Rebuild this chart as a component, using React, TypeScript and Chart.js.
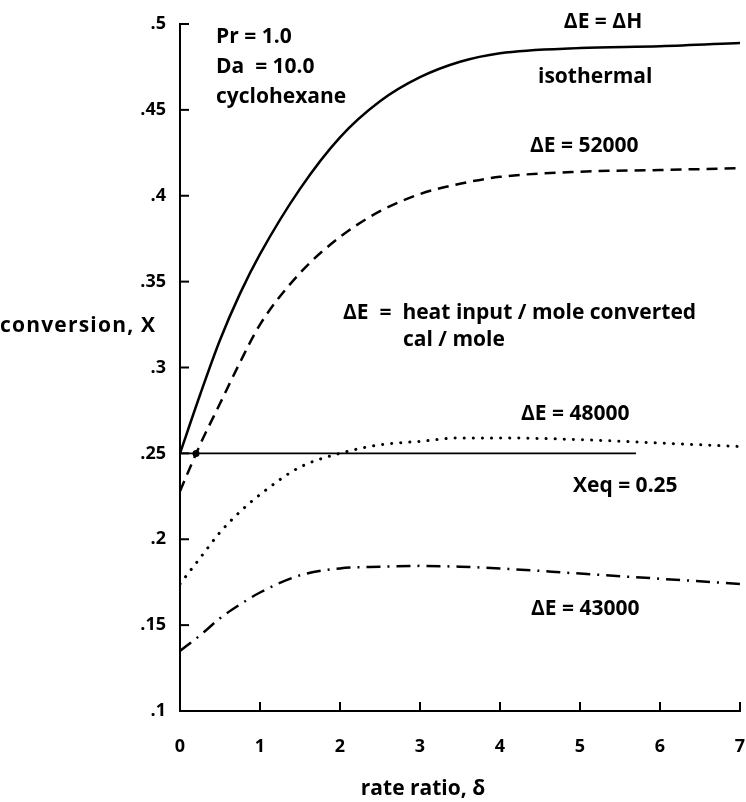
import React, { useEffect, useRef } from "react";
import { Chart, registerables } from "chart.js";
Chart.register(...registerables);

const xValues = [0, 0.25, 0.5, 0.75, 1, 1.5, 2, 2.5, 3, 3.5, 4, 5, 6, 7];
const isothermal = [0.25, 0.284, 0.316, 0.343, 0.366, 0.404, 0.434, 0.455, 0.469, 0.478, 0.483, 0.486, 0.487, 0.489];
const dE52000 = [0.228, 0.255, 0.279, 0.303, 0.325, 0.355, 0.376, 0.391, 0.401, 0.407, 0.411, 0.414, 0.415, 0.416];
const dE48000 = [0.174, 0.189, 0.204, 0.216, 0.226, 0.242, 0.250, 0.255, 0.257, 0.259, 0.259, 0.258, 0.256, 0.254];
const dE43000 = [0.135, 0.144, 0.154, 0.162, 0.169, 0.179, 0.183, 0.184, 0.1845, 0.184, 0.183, 0.180, 0.177, 0.174];
const xeqX = [0, 0.2, 5.7];
const xeqY = [0.25, 0.25, 0.25];
const xTicks = [0, 1, 2, 3, 4, 5, 6, 7];
const yTicks = [0.1, 0.15, 0.2, 0.25, 0.3, 0.35, 0.4, 0.45, 0.5];

const FONT = '"Open Sans", "DejaVu Sans", sans-serif';

const toPts = (xs: number[], ys: number[]) => xs.map((x, i) => ({ x, y: ys[i] }));

const fmtY = (v: number) => String(+v.toFixed(2)).replace(/^0/, "");

const annotations: { text: string; x: number; y: number; align: CanvasTextAlign; spacing?: string }[] = [
  { text: "Pr = 1.0", x: 216, y: 37, align: "left" },
  { text: "Da  = 10.0", x: 216, y: 67, align: "left" },
  { text: "cyclohexane", x: 216, y: 97, align: "left" },
  { text: "\u0394E = \u0394H", x: 603, y: 22, align: "center" },
  { text: "isothermal", x: 538, y: 77, align: "left" },
  { text: "\u0394E = 52000", x: 530, y: 146, align: "left" },
  { text: "\u0394E  =  heat input / mole converted", x: 343, y: 313, align: "left" },
  { text: "cal / mole", x: 403, y: 340, align: "left" },
  { text: "\u0394E = 48000", x: 521, y: 414, align: "left" },
  { text: "Xeq = 0.25", x: 573, y: 486, align: "left" },
  { text: "\u0394E = 43000", x: 531, y: 609, align: "left" },
  { text: "conversion, X", x: 0, y: 326, align: "left", spacing: "1.2px" },
  { text: "rate ratio, \u03b4", x: 423, y: 789, align: "center" },
];

const decorPlugin = {
  id: "decor",
  afterDraw(chart: any) {
    const ctx = chart.ctx;
    const xs = chart.scales.x;
    const ys = chart.scales.y;
    const { left, bottom } = chart.chartArea;
    ctx.save();
    ctx.strokeStyle = "#000";
    ctx.lineWidth = 2;
    xTicks.forEach((t) => {
      if (t === 0) return;
      const px = xs.getPixelForValue(t);
      ctx.beginPath();
      ctx.moveTo(px, bottom);
      ctx.lineTo(px, bottom - 9);
      ctx.stroke();
    });
    yTicks.forEach((t) => {
      if (t === 0.1) return;
      const py = ys.getPixelForValue(t);
      ctx.beginPath();
      ctx.moveTo(left, py);
      ctx.lineTo(left + 9, py);
      ctx.stroke();
    });
    ctx.fillStyle = "#000";
    ctx.font = `bold 21px ${FONT}`;
    ctx.textBaseline = "middle";
    annotations.forEach((a) => {
      ctx.textAlign = a.align;
      (ctx as any).letterSpacing = a.spacing || "0px";
      ctx.fillText(a.text, a.x, a.y);
    });
    ctx.restore();
  },
};

export default function App() {
  const ref = useRef<HTMLCanvasElement | null>(null);
  useEffect(() => {
    if (!ref.current) return;
    const chart = new Chart(ref.current, {
      type: "line",
      data: {
        datasets: [
          {
            label: "isothermal",
            data: toPts(xValues, isothermal),
            borderColor: "#000",
            borderWidth: 2.5,
            pointRadius: 0,
            cubicInterpolationMode: "monotone",
          },
          {
            label: "52000",
            data: toPts(xValues, dE52000),
            borderColor: "#000",
            borderWidth: 2.5,
            borderDash: [11, 7],
            pointRadius: 0,
            cubicInterpolationMode: "monotone",
          },
          {
            label: "48000",
            data: toPts(xValues, dE48000),
            borderColor: "#000",
            borderWidth: 3,
            borderDash: [0.1, 9],
            borderCapStyle: "round",
            pointRadius: 0,
            cubicInterpolationMode: "monotone",
          },
          {
            label: "43000",
            data: toPts(xValues, dE43000),
            borderColor: "#000",
            borderWidth: 2.5,
            borderDash: [14, 7, 2, 7],
            pointRadius: 0,
            cubicInterpolationMode: "monotone",
          },
          {
            label: "Xeq",
            data: toPts(xeqX, xeqY),
            borderColor: "#000",
            backgroundColor: "#000",
            borderWidth: 1.8,
            pointRadius: [0, 3.5, 0],
            pointBorderWidth: 0,
          },
        ],
      },
      options: {
        animation: false,
        responsive: false,
        devicePixelRatio: 1,
        layout: { padding: { top: 24, right: 6, left: 0, bottom: 0 } },
        plugins: { legend: { display: false }, tooltip: { enabled: false } },
        scales: {
          x: {
            type: "linear",
            min: 0,
            max: 7,
            afterFit: (s: any) => {
              s.height = 91;
              s.paddingLeft = 0;
              s.paddingRight = 0;
            },
            afterBuildTicks: (s: any) => {
              s.ticks = xTicks.map((v) => ({ value: v }));
            },
            grid: { display: false, drawTicks: false },
            border: { display: true, color: "#000", width: 2 },
            ticks: {
              color: "#000",
              font: { family: FONT, weight: "bold", size: 18 },
              padding: 25,
              maxRotation: 0,
              callback: (v: any) => String(v),
            },
          },
          y: {
            type: "linear",
            min: 0.1,
            max: 0.5,
            afterFit: (s: any) => {
              s.width = 180;
              s.paddingTop = 0;
              s.paddingBottom = 0;
            },
            afterBuildTicks: (s: any) => {
              s.ticks = yTicks.map((v) => ({ value: v }));
            },
            grid: { display: false, drawTicks: false },
            border: { display: true, color: "#000", width: 2 },
            ticks: {
              color: "#000",
              font: { family: FONT, weight: "bold", size: 18 },
              padding: 14,
              callback: (v: any) => fmtY(Number(v)),
            },
          },
        },
      },
      plugins: [decorPlugin],
    } as any);
    return () => chart.destroy();
  }, []);
  return (
    <div style={{ position: "fixed", left: 0, top: 0, width: 746, height: 802, background: "#fff" }}>
      <canvas ref={ref} width={746} height={802} style={{ width: 746, height: 802 }} />
    </div>
  );
}
